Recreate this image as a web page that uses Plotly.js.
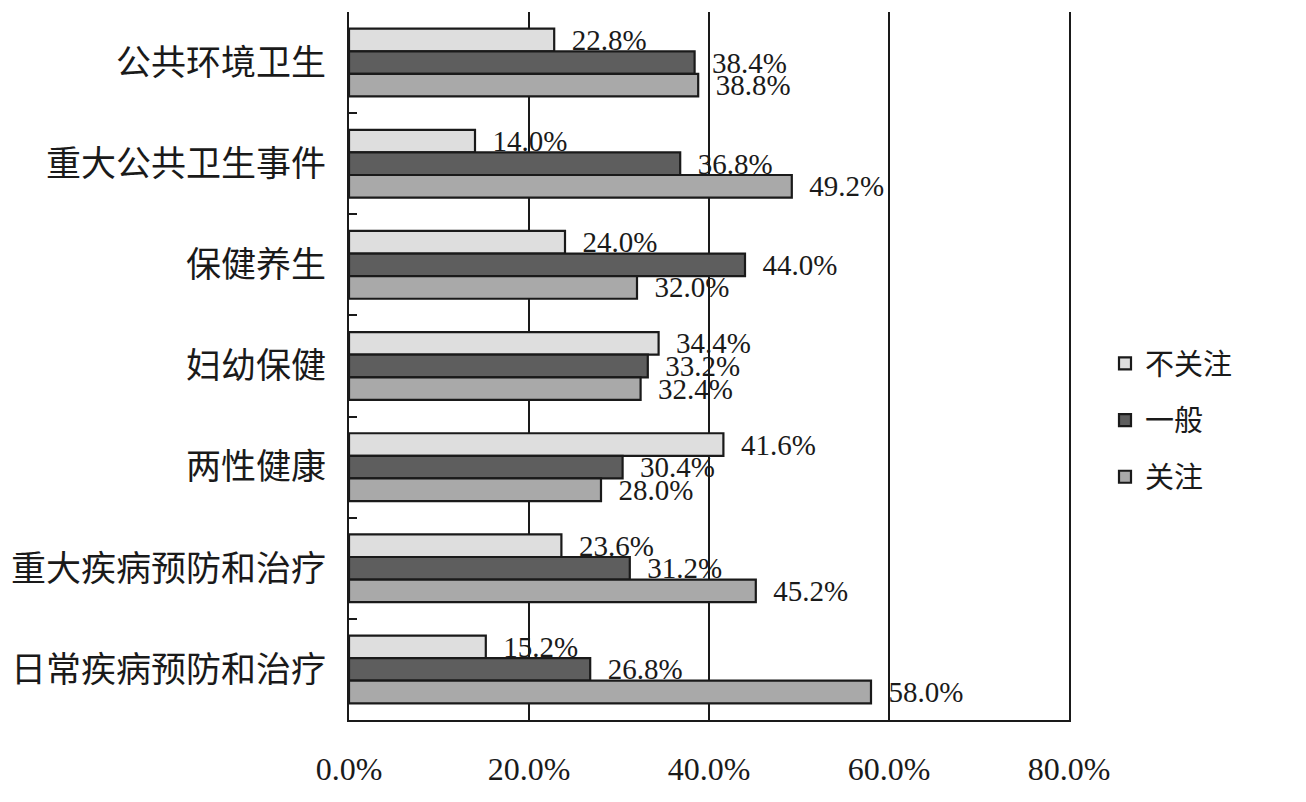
<!DOCTYPE html>
<html>
<head>
<meta charset="utf-8">
<script src="https://cdn.plot.ly/plotly-3.0.1.min.js"></script>
<style>html,body{margin:0;padding:0;background:#fff;}#chart{width:1306px;height:802px;}</style>
</head>
<body>
<div id="chart"></div>
<script>
const categories = ["公共环境卫生","重大公共卫生事件","保健养生","妇幼保健","两性健康","重大疾病预防和治疗","日常疾病预防和治疗"];
const seriesNames = ["不关注","一般","关注"];
const notCare = [22.8, 14.0, 24.0, 34.4, 41.6, 23.6, 15.2];
const neutral = [38.4, 36.8, 44.0, 33.2, 30.4, 31.2, 26.8];
const care    = [38.8, 49.2, 32.0, 32.4, 28.0, 45.2, 58.0];
const xTickVals = [0, 20, 40, 60, 80];
const xTickText = ["0.0%","20.0%","40.0%","60.0%","80.0%"];

const colors = ["#dedede", "#5e5e5e", "#a9a9a9"];
const serif = "Liberation Serif, Times New Roman, Noto Sans CJK SC, serif";
const cjk = "Liberation Serif, Noto Sans CJK SC, serif";

const series = [notCare, neutral, care];
const traces = series.map((vals, i) => ({
  type: "bar",
  orientation: "h",
  name: seriesNames[i],
  legendgroup: "g" + i,
  y: categories,
  x: vals,
  text: vals.map(v => "\u00a0\u00a0" + v.toFixed(1) + "%"),
  textposition: "outside",
  constraintext: "none",
  cliponaxis: false,
  textfont: {family: serif, size: 29, color: "#1a1a1a"},
  marker: {color: colors[i], line: {color: "#1a1a1a", width: 2.2}},
  hoverinfo: "none"
}));

const layout = {
  width: 1306,
  height: 802,
  margin: {l: 349, r: 237, t: 12, b: 82},
  paper_bgcolor: "#ffffff",
  plot_bgcolor: "#ffffff",
  barmode: "group",
  bargap: 0.33,
  bargroupgap: 0,
  showlegend: true,
  legend: {
    x: 1.05, y: 0.423, xanchor: "left", yanchor: "middle",
    font: {family: cjk, size: 29, color: "#1a1a1a"},
    tracegroupgap: 16,
    traceorder: "grouped",
    itemwidth: 30
  },
  xaxis: {
    range: [0, 80],
    tickvals: xTickVals,
    ticktext: xTickText,
    showgrid: true,
    gridcolor: "#1a1a1a",
    gridwidth: 1.5,
    zeroline: false,
    showline: true,
    linecolor: "#1a1a1a",
    linewidth: 2,
    ticks: "",
    ticklabelstandoff: 20,
    tickfont: {family: serif, size: 32, color: "#1a1a1a"},
    fixedrange: true
  },
  yaxis: {
    type: "category",
    autorange: "reversed",
    showgrid: false,
    zeroline: false,
    showline: true,
    mirror: true,
    linecolor: "#1a1a1a",
    linewidth: 2,
    ticks: "inside",
    tickson: "boundaries",
    ticklen: 8,
    tickwidth: 2,
    tickcolor: "#1a1a1a",
    ticklabelstandoff: 14,
    tickfont: {family: cjk, size: 35, color: "#1a1a1a"},
    fixedrange: true
  }
};

Plotly.newPlot("chart", traces, layout, {displayModeBar: false, staticPlot: true});
</script>
</body>
</html>
